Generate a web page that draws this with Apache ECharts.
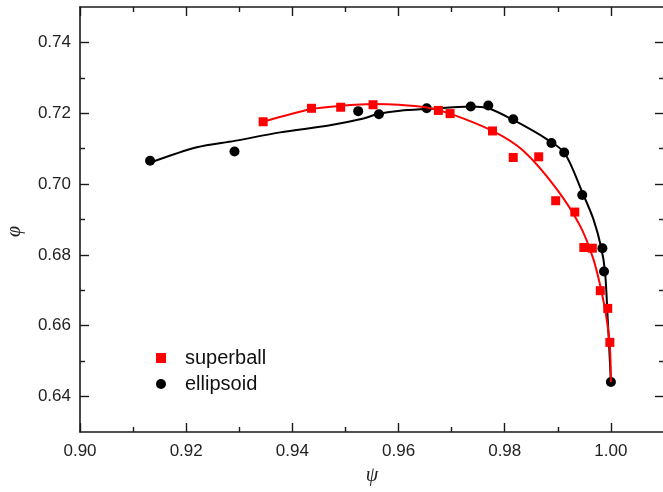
<!DOCTYPE html>
<html>
<head>
<meta charset="utf-8">
<script src="https://cdn.jsdelivr.net/npm/echarts@6/dist/echarts.min.js"></script>
<style>
  html, body { margin: 0; padding: 0; background: #fff; }
  #chart { width: 663px; height: 492px; }
</style>
</head>
<body>
<div id="chart"></div>
<script>
// Packing fraction phi versus sphericity psi
const superballPsi = [0.9345, 0.9436, 0.9491, 0.9552, 0.9675, 0.9697, 0.9777, 0.9816, 0.9864, 0.9896, 0.9932, 0.9949, 0.9965, 0.9980, 0.9994, 0.9998];
const superballPhi = [0.7176, 0.7214, 0.7217, 0.7224, 0.7208, 0.7199, 0.7150, 0.7075, 0.7077, 0.6953, 0.6921, 0.6821, 0.6819, 0.6699, 0.6649, 0.6553];

const ellipsoidPsi = [0.9132, 0.9291, 0.9524, 0.9563, 0.9653, 0.9736, 0.9769, 0.9816, 0.9888, 0.9912, 0.9946, 0.9984, 0.9987, 1.0000];
const ellipsoidPhi = [0.7066, 0.7092, 0.7206, 0.7197, 0.7214, 0.7219, 0.7222, 0.7183, 0.7116, 0.7089, 0.6969, 0.6819, 0.6753, 0.6441];

// Fitted trend curves
const superballFitPsi = [0.9345, 0.9436, 0.9491, 0.9552, 0.9600, 0.9653, 0.9697, 0.9777, 0.9835, 0.9898, 0.9942, 0.9967, 0.9982, 0.9992, 0.9998, 1.0000];
const superballFitPhi = [0.7176, 0.7212, 0.7221, 0.7226, 0.7224, 0.7216, 0.7199, 0.7150, 0.7094, 0.6986, 0.6882, 0.6788, 0.6699, 0.6619, 0.6544, 0.6441];

const ellipsoidFitPsi = [0.9133, 0.9220, 0.9291, 0.9377, 0.9471, 0.9534, 0.9559, 0.9603, 0.9653, 0.9736, 0.9769, 0.9816, 0.9879, 0.9913, 0.9946, 0.9967, 0.9982, 0.9989, 0.9994, 1.0000];
const ellipsoidFitPhi = [0.7061, 0.7104, 0.7122, 0.7146, 0.7166, 0.7185, 0.7197, 0.7207, 0.7212, 0.7219, 0.7214, 0.7181, 0.7127, 0.7087, 0.6977, 0.6901, 0.6819, 0.6751, 0.6619, 0.6441];

// Axis ticks
const xMajor = [0.90, 0.92, 0.94, 0.96, 0.98, 1.00];
const xMinor = [0.91, 0.93, 0.95, 0.97, 0.99];
const yMajor = [0.64, 0.66, 0.68, 0.70, 0.72, 0.74];
const yMinor = [0.65, 0.67, 0.69, 0.71, 0.73];

const pairs = (xs, ys) => xs.map((x, i) => [x, ys[i]]);

const AXIS_COLOR = '#1a1a1a';
const FONT = '"Liberation Sans", Arial, sans-serif';

function tickAxis(extra, values, len, showLine) {
  return Object.assign({
    type: 'value',
    axisLine: { show: showLine, lineStyle: { color: AXIS_COLOR, width: 1.6 } },
    axisTick: { show: true, inside: true, length: len, customValues: values, lineStyle: { color: AXIS_COLOR, width: 1.4 } },
    axisLabel: { show: false },
    splitLine: { show: false }
  }, extra);
}

const xRange = { min: 0.90, max: 1.01 };
const yRange = { min: 0.63, max: 0.75 };

const chart = echarts.init(document.getElementById('chart'), null, { renderer: 'canvas' });
chart.setOption({
  animation: false,
  backgroundColor: '#fff',
  grid: { left: 80, top: 7, width: 584, height: 425, containLabel: false, outerBoundsMode: 'none' },
  xAxis: [
    Object.assign(tickAxis(Object.assign({ position: 'bottom' }, xRange), xMajor, 9, true), {
      axisLabel: {
        show: true, customValues: xMajor, margin: 11,
        fontFamily: FONT, fontSize: 17, color: '#222',
        formatter: v => v.toFixed(2)
      },
      name: 'ψ', nameLocation: 'middle', nameGap: 34,
      nameTextStyle: { fontFamily: '"Liberation Serif", serif', fontStyle: 'italic', fontSize: 20, color: '#222' }
    }),
    tickAxis(Object.assign({ position: 'bottom' }, xRange), xMinor, 5, false),
    tickAxis(Object.assign({ position: 'top' }, xRange), xMajor, 9, true),
    tickAxis(Object.assign({ position: 'top' }, xRange), xMinor, 5, false)
  ],
  yAxis: [
    Object.assign(tickAxis(Object.assign({ position: 'left' }, yRange), yMajor, 9, true), {
      axisLabel: {
        show: true, customValues: yMajor, margin: 9,
        fontFamily: FONT, fontSize: 17, color: '#222',
        formatter: v => v.toFixed(2)
      },
      name: 'φ', nameLocation: 'middle', nameGap: 55, nameRotate: 90,
      nameTextStyle: { fontFamily: '"Liberation Serif", serif', fontStyle: 'italic', fontSize: 20, color: '#222', padding: [0, 24, 0, 0] }
    }),
    tickAxis(Object.assign({ position: 'left' }, yRange), yMinor, 5, false),
    tickAxis(Object.assign({ position: 'right' }, yRange), yMajor, 9, true),
    tickAxis(Object.assign({ position: 'right' }, yRange), yMinor, 5, false)
  ],
  legend: {
    data: ['superball', 'ellipsoid'],
    orient: 'vertical',
    left: 151, top: 343,
    itemWidth: 10, itemHeight: 10, itemGap: 6,
    textStyle: { fontFamily: FONT, fontSize: 20, color: '#111', lineHeight: 20, padding: [0, 0, 0, 14] }
  },
  series: [
    {
      name: 'ellipsoid fit', type: 'line', data: pairs(ellipsoidFitPsi, ellipsoidFitPhi),
      smooth: 0.3, showSymbol: false, silent: true,
      lineStyle: { color: '#000', width: 2 }, z: 2
    },
    {
      name: 'ellipsoid', type: 'scatter', data: pairs(ellipsoidPsi, ellipsoidPhi),
      symbol: 'circle', symbolSize: 10,
      itemStyle: { color: '#000', opacity: 1 }, z: 3
    },
    {
      name: 'superball fit', type: 'line', data: pairs(superballFitPsi, superballFitPhi),
      smooth: 0.3, showSymbol: false, silent: true,
      lineStyle: { color: '#ff0000', width: 2 }, z: 4
    },
    {
      name: 'superball', type: 'scatter', data: pairs(superballPsi, superballPhi),
      symbol: 'rect', symbolSize: 9,
      itemStyle: { color: '#ff0000', opacity: 1 }, z: 5
    }
  ]
});
</script>
</body>
</html>
